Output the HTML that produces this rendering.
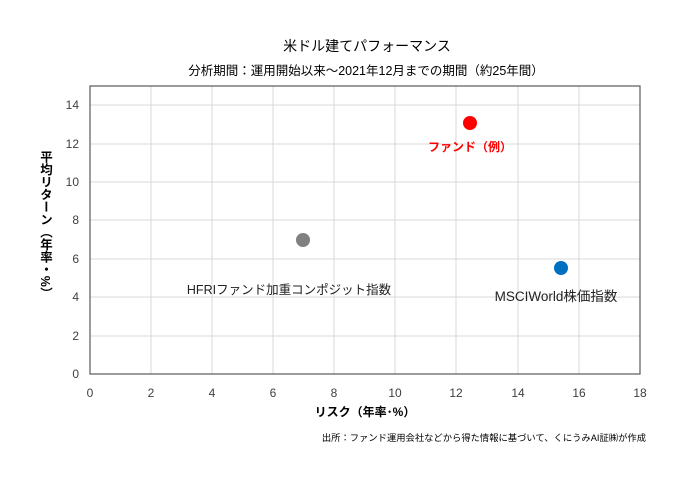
<!DOCTYPE html>
<html><head><meta charset="utf-8"><style>
body{margin:0;background:#fff;width:700px;height:482px;overflow:hidden}
text{font-family:"Liberation Sans","Noto Sans CJK JP",sans-serif}
</style></head><body>
<svg width="700" height="482" xmlns="http://www.w3.org/2000/svg">
<text x="367" y="51" font-size="14" text-anchor="middle" fill="#000">米ドル建てパフォーマンス</text>
<text x="366" y="75" font-size="12.5" text-anchor="middle" fill="#000">分析期間：運用開始以来～2021年12月までの期間（約25年間）</text>
<g stroke="#d9d9d9" stroke-width="1">
<line x1="151" y1="86" x2="151" y2="374"/><line x1="212" y1="86" x2="212" y2="374"/><line x1="273" y1="86" x2="273" y2="374"/><line x1="334" y1="86" x2="334" y2="374"/><line x1="395" y1="86" x2="395" y2="374"/><line x1="456" y1="86" x2="456" y2="374"/><line x1="518" y1="86" x2="518" y2="374"/><line x1="579" y1="86" x2="579" y2="374"/>
<line x1="90" y1="336" x2="640" y2="336"/><line x1="90" y1="297" x2="640" y2="297"/><line x1="90" y1="259" x2="640" y2="259"/><line x1="90" y1="220" x2="640" y2="220"/><line x1="90" y1="182" x2="640" y2="182"/><line x1="90" y1="144" x2="640" y2="144"/><line x1="90" y1="105" x2="640" y2="105"/>
</g>
<rect x="90" y="86" width="550" height="288" fill="none" stroke="#595959" stroke-width="1.2"/>
<g font-size="12" fill="#404040" text-anchor="end">
<text x="79" y="378">0</text><text x="79" y="340">2</text><text x="79" y="301">4</text><text x="79" y="263">6</text><text x="79" y="224">8</text><text x="79" y="186">10</text><text x="79" y="148">12</text><text x="79" y="109">14</text>
</g>
<g font-size="12" fill="#404040" text-anchor="middle">
<text x="90" y="397">0</text><text x="151" y="397">2</text><text x="212" y="397">4</text><text x="273" y="397">6</text><text x="334" y="397">8</text><text x="395" y="397">10</text><text x="456" y="397">12</text><text x="518" y="397">14</text><text x="579" y="397">16</text><text x="640" y="397">18</text>
</g>
<text x="365" y="416" font-size="12" font-weight="bold" text-anchor="middle" fill="#000">リスク（年率･%）</text>
<text x="45" y="225" font-size="12.5" font-weight="bold" text-anchor="middle" fill="#000" style="writing-mode:vertical-rl">平均リターン（年率・%）</text>
<circle cx="470" cy="123" r="7" fill="#ff0000"/>
<circle cx="561" cy="268" r="7" fill="#0070c0"/>
<circle cx="303" cy="240" r="7" fill="#808080"/>
<text x="470" y="151" font-size="12" font-weight="bold" fill="#ff0000" text-anchor="middle">ファンド（例）</text>
<text x="289" y="294" font-size="12.5" fill="#222" text-anchor="middle">HFRIファンド加重コンポジット指数</text>
<text x="556" y="301" font-size="13.5" fill="#222" text-anchor="middle">MSCIWorld株価指数</text>
<text x="646" y="441" font-size="9.3" fill="#000" text-anchor="end">出所：ファンド運用会社などから得た情報に基づいて、くにうみAI証㈱が作成</text>
</svg>
</body></html>
